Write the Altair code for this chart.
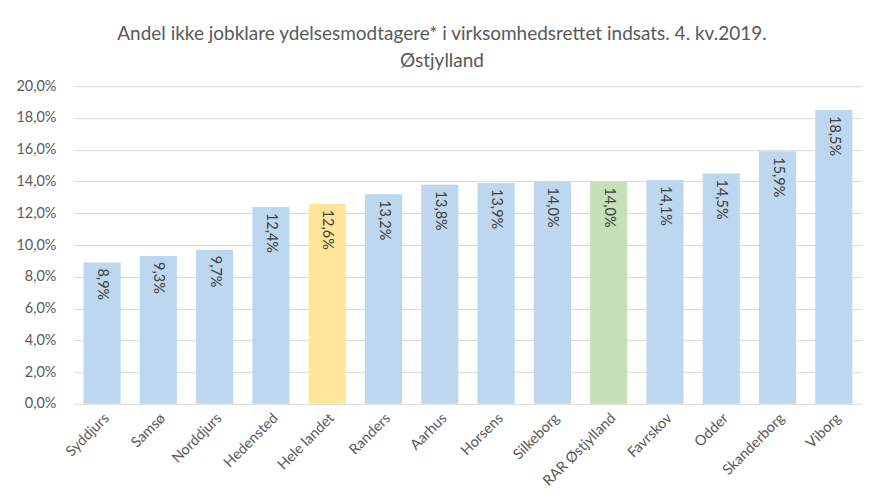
import altair as alt
import pandas as pd

categories = ["Syddjurs", "Samsø", "Norddjurs", "Hedensted", "Hele landet", "Randers",
              "Aarhus", "Horsens", "Silkeborg", "RAR Østjylland", "Favrskov", "Odder",
              "Skanderborg", "Viborg"]
values = [8.9, 9.3, 9.7, 12.4, 12.6, 13.2, 13.8, 13.9, 14.0, 14.0, 14.1, 14.5, 15.9, 18.5]
groups = ["kommune", "kommune", "kommune", "kommune", "land", "kommune", "kommune",
          "kommune", "kommune", "rar", "kommune", "kommune", "kommune", "kommune"]
y_ticks = [0.0, 2.0, 4.0, 6.0, 8.0, 10.0, 12.0, 14.0, 16.0, 18.0, 20.0]

group_domain = ["kommune", "land", "rar"]
group_colors = ["#BDD7EE", "#FFE699", "#C5E0B4"]

df = pd.DataFrame({"kommune": categories, "andel": values, "gruppe": groups})
df["label"] = df["andel"].map(lambda v: f"{v:.1f}".replace(".", ",") + "%")

font = "Lato"

base = alt.Chart(df).encode(
    x=alt.X("kommune:N", sort=categories, title=None,
            scale=alt.Scale(paddingInner=0.34, paddingOuter=0.17),
            axis=alt.Axis(labelAngle=-45, labelFontSize=14.5, labelColor="#595959",
                          labelFont=font, ticks=False, domain=False, labelPadding=7,
                          labelLimit=200, labelOverlap=False)),
    y=alt.Y("andel:Q", title=None,
            scale=alt.Scale(domain=[0, 20], nice=False),
            axis=alt.Axis(values=y_ticks, tickCount=11, labelFlush=False,
                          labelExpr="replace(format(datum.value, '.1f'), '.', ',') + '%'",
                          labelFontSize=14.5, labelColor="#595959", labelFont=font,
                          ticks=False, domain=False, labelPadding=18, labelOverlap=False,
                          labelSeparation=0,
                          gridColor="#D9D9D9", gridWidth=1)),
)

bars = base.mark_bar().encode(
    color=alt.Color("gruppe:N", scale=alt.Scale(domain=group_domain, range=group_colors),
                    legend=None),
)

texts = base.mark_text(angle=90, align="left", baseline="middle", dx=6,
                       fontSize=14.5, font=font, color="#404040").encode(
    text="label:N",
)

chart = (bars + texts).properties(
    width=789,
    height=318,
    title=alt.TitleParams(
        ["Andel ikke jobklare ydelsesmodtagere* i virksomhedsrettet indsats. 4. kv.2019.",
         "Østjylland"],
        fontSize=19, font=font, fontWeight="normal", color="#595959",
        lineHeight=27, offset=7, anchor="middle", dx=-26),
    autosize=alt.AutoSizeParams(type="none"),
    padding={"left": 66, "top": 78, "right": 0, "bottom": 88},
    background="white",
).configure_view(stroke=None).configure_axis(labelOverlap=False)

chart.save("out.html", embed_options={"renderer": "svg", "actions": False})
